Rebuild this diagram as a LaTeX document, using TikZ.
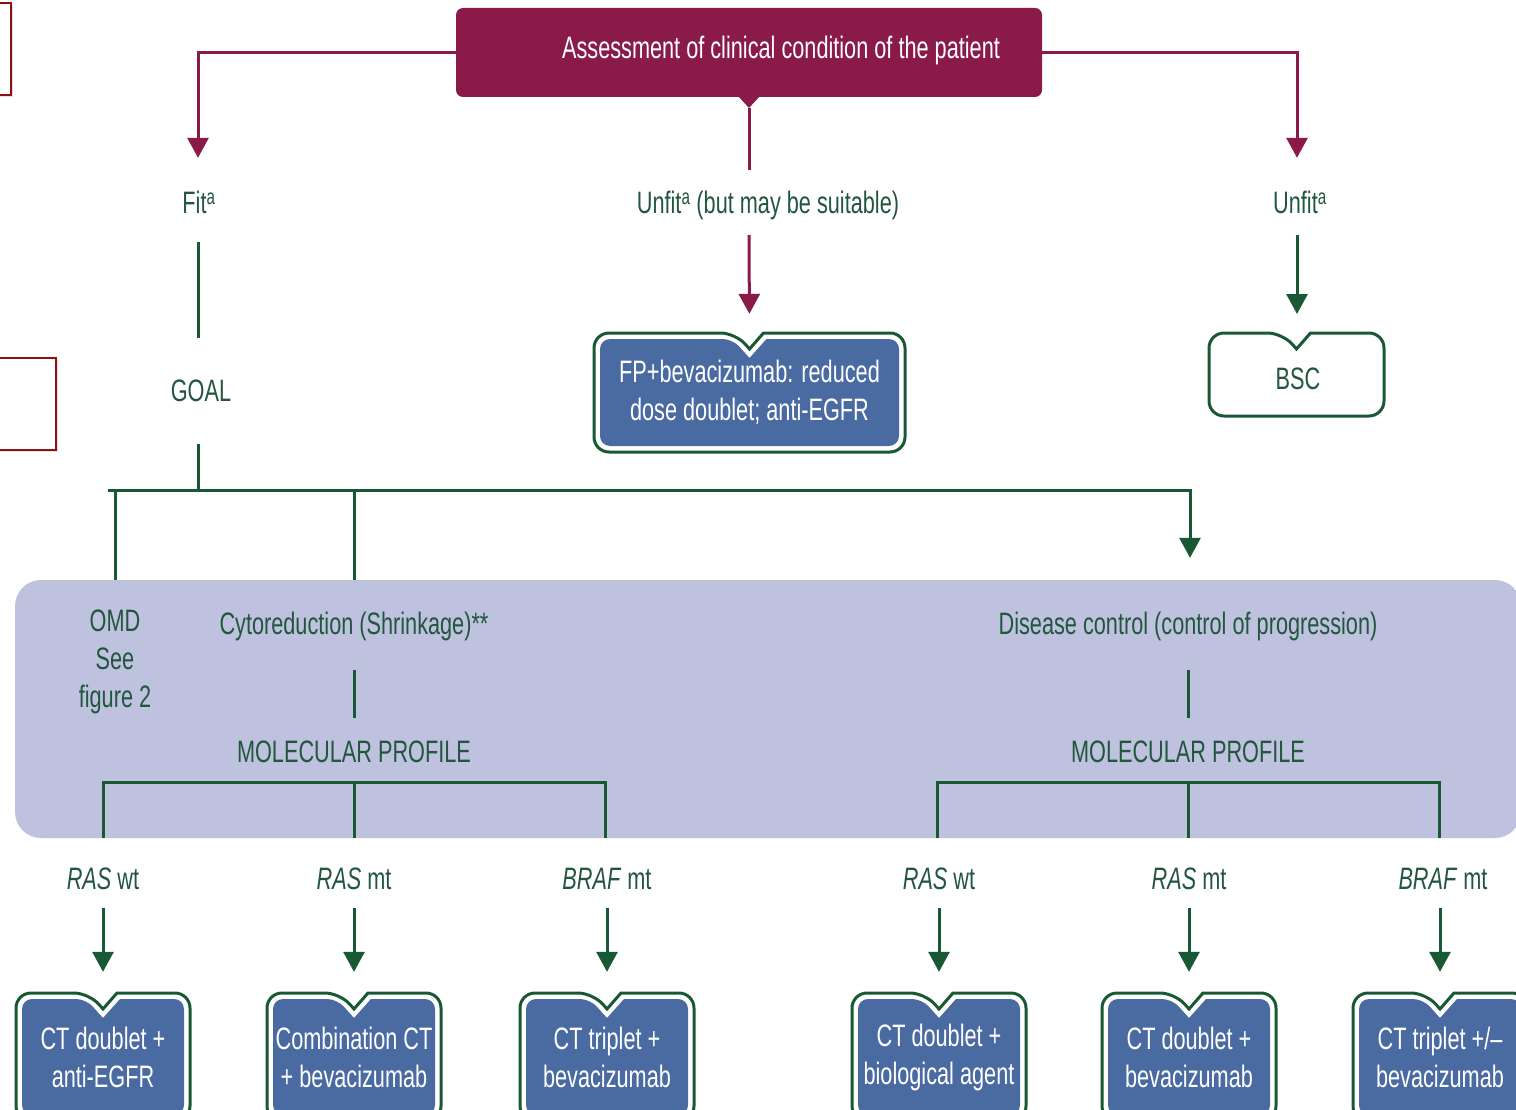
\documentclass[tikz,border=0pt]{standalone}
\usepackage{fontspec}
\setmainfont[FakeStretch=0.7]{Liberation Sans}
\usetikzlibrary{arrows.meta,calc,shadows}

\definecolor{assessred}{RGB}{138,26,74}
\definecolor{pathgreen}{RGB}{24,88,52}
\definecolor{labelgreen}{RGB}{34,86,62}
\definecolor{treatblue}{RGB}{74,106,162}
\definecolor{goalpanel}{RGB}{190,194,222}
\definecolor{framered}{RGB}{140,16,20}

% notched callout outline: #1 left, #2 top, #3 right, #4 bottom, #5 style
\newcommand\notchedoutline[5]{%
  \path[#5] ({(#1+#3)/2+14},#2) [rounded corners=15] -- (#3,#2) -- (#3,#4)
    -- (#1,#4) -- (#1,#2) -- ({(#1+#3)/2-14},#2) [sharp corners]
    -- ({(#1+#3)/2},{#2+16}) -- cycle;}
% inner fill of a notched callout, inset from the outline
\newcommand\notchedfill[5]{%
  \path[#5] ({(#1+#3)/2+17},{#2+6}) [rounded corners=10] -- ({#3-6},{#2+6})
    -- ({#3-6},{#4-6}) -- ({#1+6},{#4-6}) -- ({#1+6},{#2+6})
    -- ({(#1+#3)/2-17},{#2+6}) [sharp corners]
    -- ({(#1+#3)/2},{#2+25}) -- cycle;}

\tikzset{
  lbl/.style={text=labelgreen, inner sep=0pt, text height=22pt, text depth=0pt},
  multilbl/.style={text=labelgreen, inner sep=0pt, align=center},
  boxtxt/.style={text=white, inner sep=0pt, align=center},
  redline/.style={draw=assessred, line width=3pt},
  greenline/.style={draw=pathgreen, line width=3pt},
  tip/.style={-{Triangle[width=21pt,length=20pt]}},
}

\begin{document}
\begin{tikzpicture}[x=1pt,y=-1pt,
  every node/.append style={font=\fontsize{31}{38}\selectfont}]
\useasboundingbox (0,0) rectangle (1516,1110);
\clip (0,0) rectangle (1516,1110);

% framing rectangles at the left edge
\draw[framered, line width=2pt, fill=white,
  drop shadow={shadow xshift=2pt, shadow yshift=-2pt, opacity=0.25}]
  (-20,3) rectangle (11,95);
\draw[framered, line width=2pt, fill=white,
  drop shadow={shadow xshift=2pt, shadow yshift=-2pt, opacity=0.25}]
  (-20,358) rectangle (56,450);

% assessment header
\node[fill=assessred, rounded corners=7, minimum width=586, minimum height=89,
  inner sep=0pt,
  label={[text=white, inner sep=0pt, text height=22pt, text depth=0pt,
          xshift=32pt, yshift=4.5pt]center:Assessment of clinical condition of the patient}]
  (assess) at (749,52.5) {};
\coordinate (assesstip) at (749,108);
\fill[assessred] (738,96) -- (760,96) -- (assesstip) -- cycle;

% first-level labels
\node[lbl] (fit) at (199,203) {Fit\textsuperscript{a}};
\node[lbl] (unfitmid) at (768,203) {Unfit\textsuperscript{a} (but may be suitable)};
\node[lbl] (unfit) at (1300,203) {Unfit\textsuperscript{a}};

\draw[redline, tip, shorten >=34] (assess.west) -| (fit.north -| 198,0);
\draw[redline, tip, shorten >=34] (assess.east) -| (unfit.north -| 1297,0);
\draw[redline] (assesstip) -- (assesstip |- 0,170);

% unfit (but may be suitable) branch
\notchedoutline{594}{333}{905}{452}{draw=pathgreen, line width=3pt, fill=white}
\notchedfill{594}{333}{905}{452}{fill=treatblue}
\node[boxtxt, minimum width=311, minimum height=119] (fp) at (749.5,392.5)
  {FP+bevacizumab: reduced\\dose doublet; anti-EGFR};
\draw[redline, tip, shorten >=19] (assesstip |- 0,235) -- (fp.north);

% unfit branch
\notchedoutline{1209}{333}{1384}{416}{draw=pathgreen, line width=3pt, fill=white}
\node[lbl] (bsc) at (1298,378) {BSC};
\coordinate (bsctop) at (1297,333);
\draw[greenline, tip, shorten >=19] (1297,235) -- (bsctop);

% fit branch: goal
\node[lbl] (goal) at (201,390) {GOAL};
\draw[greenline] (198,242) -- (198,338);
\coordinate (busjoin) at (198,490);
\draw[greenline] (198,444) -- (busjoin);

% goal panel
\node[fill=goalpanel, rounded corners=26, minimum width=1506, minimum height=258,
  inner sep=0pt] (panel) at (768,709) {};

\node[multilbl] (omd) at (115,662) {OMD\\See\\figure 2};
\node[lbl] (cyto) at (354,623) {Cytoreduction (Shrinkage)**};
\node[lbl] (disease) at (1188,623) {Disease control (control of progression)};
\node[lbl] (mp1) at (354,751) {MOLECULAR PROFILE};
\node[lbl] (mp2) at (1188,751) {MOLECULAR PROFILE};

% goal bus
\coordinate (buswest) at (108,490);
\draw[greenline, tip, shorten >=54] (buswest) -| (disease.north -| 1190,0);
\draw[greenline] (115,490) -- (panel.north -| 115,0);
\draw[greenline] (354,490) -- (panel.north -| 354,0);

\draw[greenline, shorten <=36, shorten >=22] (cyto.south) -- (mp1.north);
\draw[greenline, shorten <=36, shorten >=22] (disease.south) -- (mp2.north);

% molecular profile brackets
\draw[greenline] (103,838) |- (605,782) -- (605,838);
\draw[greenline] (354,782) -- (354,838);
\draw[greenline] (937,838) |- (1439,782) -- (1439,838);
\draw[greenline] (1188,782) -- (1188,838);

% mutation labels
\node[lbl] (l1) at (103,878) {\textit{RAS} wt};
\node[lbl] (l2) at (354,878) {\textit{RAS} mt};
\node[lbl] (l3) at (607,878) {\textit{BRAF} mt};
\node[lbl] (l4) at (939,878) {\textit{RAS} wt};
\node[lbl] (l5) at (1189,878) {\textit{RAS} mt};
\node[lbl] (l6) at (1443,878) {\textit{BRAF} mt};

% treatment boxes
\foreach \cx/\nm/\txt in {103/t1/{CT doublet +\\anti-EGFR},
                         354/t2/{Combination CT\\+ bevacizumab},
                         607/t3/{CT triplet +\\bevacizumab},
                         939/t4/{CT doublet +\\biological agent},
                         1189/t5/{CT doublet +\\bevacizumab},
                         1440/t6/{CT triplet +/–\\bevacizumab}}{
  \notchedoutline{\cx-87}{993}{\cx+87}{1121}{draw=pathgreen, line width=3pt, fill=white}
  \notchedfill{\cx-87}{993}{\cx+87}{1121}{fill=treatblue}
  \node[boxtxt, minimum width=174, minimum height=128] (\nm) at (\cx,1057) {\txt};
}

\foreach \a/\b/\x in {l1/t1/103, l2/t2/354, l3/t3/607, l4/t4/939, l5/t5/1189, l6/t6/1440}
  \draw[greenline, tip, shorten <=19, shorten >=21] (\a.south -| \x,0) -- (\b.north);
\end{tikzpicture}
\end{document}
